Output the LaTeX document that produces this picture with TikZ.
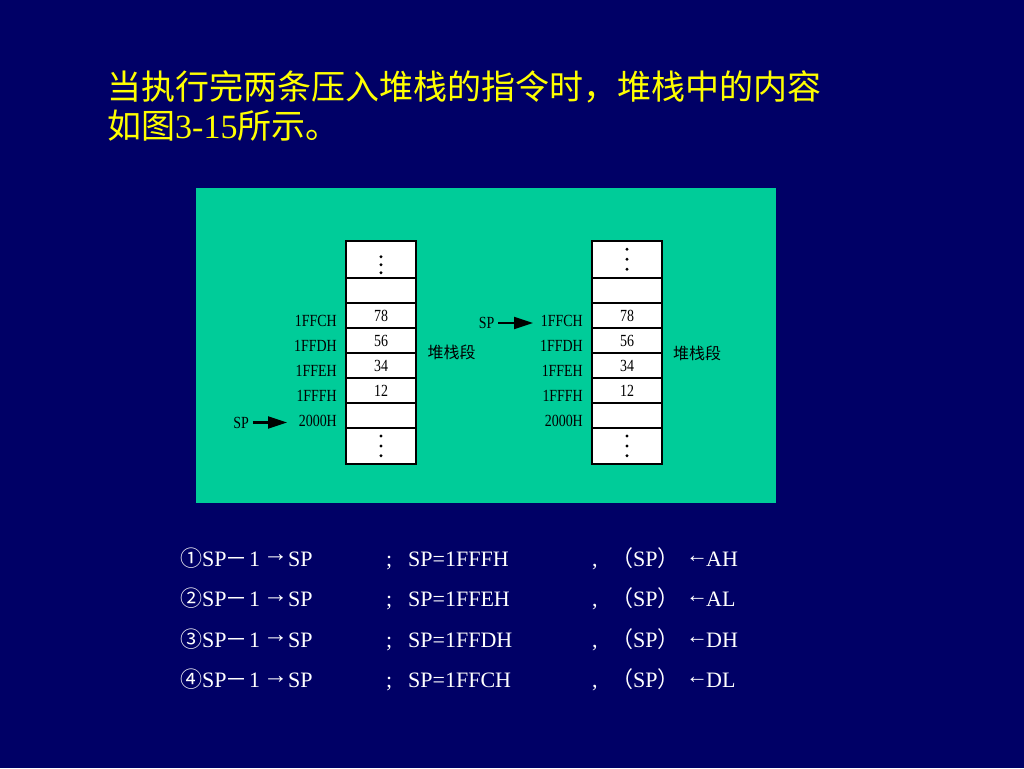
\documentclass[tikz,border=0pt]{standalone}
\usepackage{fontspec}
\setmainfont{Liberation Serif}
\newfontfamily\cjk{Noto Sans CJK SC}
\newfontfamily\narrowserif[FakeStretch=0.82]{Liberation Serif}
\usetikzlibrary{arrows.meta}
\definecolor{bgnavy}{RGB}{0,0,102}
\definecolor{panelgreen}{RGB}{0,204,153}
\definecolor{titleyellow}{RGB}{255,255,0}
\begin{document}
\begin{tikzpicture}[x=1pt,y=-1pt,
  cell/.style={draw=black, line width=1.3pt, fill=white, minimum width=70pt,
    inner sep=0pt, font=\narrowserif\fontsize{17}{17}\selectfont},
  addr/.style={anchor=east, inner sep=0pt, font=\narrowserif\fontsize{17}{17}\selectfont},
  seglabel/.style={inner sep=0pt, font=\cjk\fontsize{16}{16}\selectfont},
  splabel/.style={inner sep=0pt, font=\narrowserif\fontsize{17}{17}\selectfont},
  sparrow/.style={line width=2.2pt, shorten <=4pt, -{Triangle[length=19pt,width=12pt]}},
  titletext/.style={anchor=base west, inner sep=0pt, text=titleyellow,
    font=\cjk\fontsize{34}{34}\selectfont},
  bt/.style={anchor=base west, inner sep=0pt, text=white, font=\fontsize{22}{22}\selectfont},
  btcjk/.style={bt, font=\cjk\fontsize{22}{22}\selectfont},
  btarrow/.style={bt, font=\fontsize{25}{25}\selectfont},
  stackdot/.style={fill=black}
]
\useasboundingbox (0,0) rectangle (1024,768);
\fill[bgnavy] (0,0) rectangle (1024,768);

% title
\node[titletext] (title1) at (107,99) {当执行完两条压入堆栈的指令时，堆栈中的内容};
\node[titletext] (title2) at (107,138) {如图{\fontspec{Liberation Serif}3-15}所示。};

% panel
\node[fill=panelgreen, anchor=north west, inner sep=0pt,
      minimum width=580pt, minimum height=314.5pt] (panel) at (196,188) {};

% stacks
\foreach \side/\cx in {L/381, R/627} {
  \node[cell, minimum height=37pt] (\side1) at (\cx,259.5) {};
  \node[cell, minimum height=25pt] (\side2) at (\cx,290.5) {};
  \node[cell, minimum height=25pt] (\side3) at (\cx,315.5) {78};
  \node[cell, minimum height=25pt] (\side4) at (\cx,340.5) {56};
  \node[cell, minimum height=25pt] (\side5) at (\cx,365.5) {34};
  \node[cell, minimum height=25pt] (\side6) at (\cx,390.5) {12};
  \node[cell, minimum height=25pt] (\side7) at (\cx,415.5) {};
  \node[cell, minimum height=36pt] (\side8) at (\cx,446) {};
  \foreach \dy in {436,446,455.7} \fill[stackdot] (\cx,\dy) circle (1.6);
}
\foreach \dy in {256.7,264.7,272.7} \fill[stackdot] (381,\dy) circle (1.6);
\foreach \dy in {249.3,259.3,269.3} \fill[stackdot] (627,\dy) circle (1.6);

% address labels
\foreach \side/\ex in {L/337, R/583} {
  \node[addr] (\side a1) at (\ex,320.7) {1FFCH};
  \node[addr] (\side a2) at (\ex,346) {1FFDH};
  \node[addr] (\side a3) at (\ex,370.7) {1FFEH};
  \node[addr] (\side a4) at (\ex,395.7) {1FFFH};
  \node[addr] (\side a5) at (\ex,420.7) {2000H};
}

\node[seglabel] (segL) at (451.5,352.7) {堆栈段};
\node[seglabel] (segR) at (697,353) {堆栈段};

% SP pointers
\node[splabel] (spL) at (241,422.5) {SP};
\coordinate (tipL) at (287,422.5);
\draw[sparrow] (spL.east) -- (tipL);
\node[splabel] (spR) at (486.5,323) {SP};
\coordinate (tipR) at (533,323);
\draw[sparrow] (spR.east) -- (tipR);

% bottom lines
\foreach \i/\by/\circ/\val/\reg in {1/566/①/1FFFH/AH, 2/606.5/②/1FFEH/AL,
                                   3/647/③/1FFDH/DH, 4/687.5/④/1FFCH/DL} {
  \node[btcjk] (n\i) at (180,\by) {\circ};
  \node[bt] (sa\i) at (202,\by) {SP};
  \node[btcjk] (m\i) at (225,\by) {－};
  \node[bt] (o\i) at (249,\by) {1};
  \node[btarrow] (ra\i) at (263,\by) {\raisebox{4.5pt}{→}};
  \node[bt] (sb\i) at (288,\by) {SP};
  \node[bt] (sc\i) at (386,\by) {;};
  \node[bt] (v\i) at (408,\by) {SP=\val};
  \node[bt] (cm\i) at (592,\by) {,};
  \node[btcjk] (p\i) at (611,\by) {（{\fontspec{Liberation Serif}SP}）};
  \node[bt] (la\i) at (686,\by) {\raisebox{4pt}{←}};
  \node[bt] (rg\i) at (706,\by) {\reg};
}
\end{tikzpicture}
\end{document}
